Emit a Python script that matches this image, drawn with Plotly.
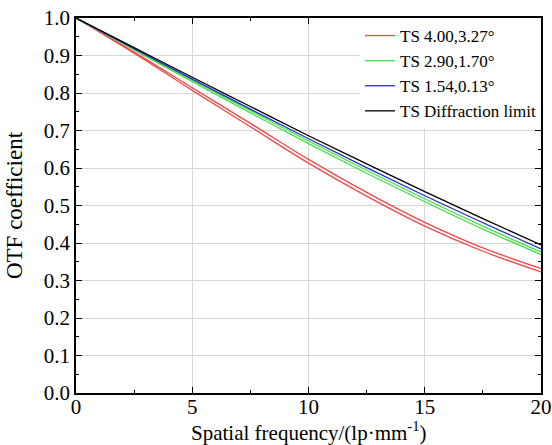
import plotly.graph_objects as go

# spatial frequency (lp/mm)
freq = [0, 2.5, 5, 7.5, 10, 12.5, 15, 17.5, 20]

# OTF values
red_t = [1.0, 0.909, 0.814, 0.719, 0.623, 0.535, 0.455, 0.387, 0.332]
red_s = [1.0, 0.906, 0.807, 0.710, 0.613, 0.525, 0.445, 0.378, 0.323]
green_t = [1.0, 0.917, 0.834, 0.753, 0.672, 0.594, 0.518, 0.445, 0.376]
green_s = [1.0, 0.915, 0.830, 0.747, 0.665, 0.586, 0.510, 0.437, 0.369]
blue_ts = [1.0, 0.918, 0.837, 0.757, 0.678, 0.601, 0.526, 0.454, 0.384]
diff_limit = [1.0, 0.921, 0.842, 0.764, 0.686, 0.611, 0.537, 0.465, 0.395]

FONT = "Liberation Serif, Times New Roman, serif"

series = [
    ("TS 4.00,3.27°", "#f04848", [red_t, red_s]),
    ("TS 2.90,1.70°", "#44e044", [green_t, green_s]),
    ("TS 1.54,0.13°", "#2a2ad0", [blue_ts]),
    ("TS Diffraction limit", "#000000", [diff_limit]),
]

fig = go.Figure()
for name, color, curves in series:
    for i, ys in enumerate(curves):
        fig.add_trace(go.Scatter(
            x=freq, y=ys, mode="lines", name=name,
            line=dict(color=color, width=1.3, shape="spline"),
            legendgroup=name, showlegend=(i == 0),
        ))

axis_common = dict(
    showline=True, linecolor="black", linewidth=1.5, mirror="ticks",
    ticks="inside", ticklen=6, tickwidth=1.2, tickcolor="black",
    showgrid=True, gridcolor="#d6d6d6", gridwidth=1,
    zeroline=False, automargin=False,
    tickfont=dict(family=FONT, size=21, color="black"),
)

fig.update_layout(
    width=552, height=445,
    margin=dict(l=76, r=11, t=18, b=52),
    paper_bgcolor="white", plot_bgcolor="white",
    font=dict(family=FONT, color="black"),
    xaxis=dict(
        range=[0, 20], dtick=5, tick0=0, ticklabelstandoff=-6,
        minor=dict(dtick=2.5, ticks="inside", ticklen=3, tickcolor="black", showgrid=False),
        **axis_common,
    ),
    yaxis=dict(
        range=[0, 1], dtick=0.1, tick0=0, tickformat=".1f",
        minor=dict(dtick=0.05, ticks="inside", ticklen=3, tickcolor="black", showgrid=False),
        title=dict(text="OTF coefficient", font=dict(family=FONT, size=23)),
        **axis_common,
    ),
    legend=dict(
        x=1, xanchor="right", y=1, yanchor="top",
        bgcolor="white", borderwidth=0,
        font=dict(family=FONT, size=17, color="black"),
        tracegroupgap=0, itemwidth=30,
    ),
)

# x-axis title placed by hand so it sits close under the tick labels
fig.add_annotation(
    text="Spatial frequency/(lp·mm<sup>-1</sup>)",
    xref="paper", yref="paper", x=0.5, y=0,
    yanchor="middle", yshift=-38, showarrow=False,
    font=dict(family=FONT, size=21, color="black"),
)

fig.write_html(
    "out.html",
    config={"displayModeBar": False},
    post_script="document.body.style.margin='0';document.body.style.overflow='hidden';",
)
